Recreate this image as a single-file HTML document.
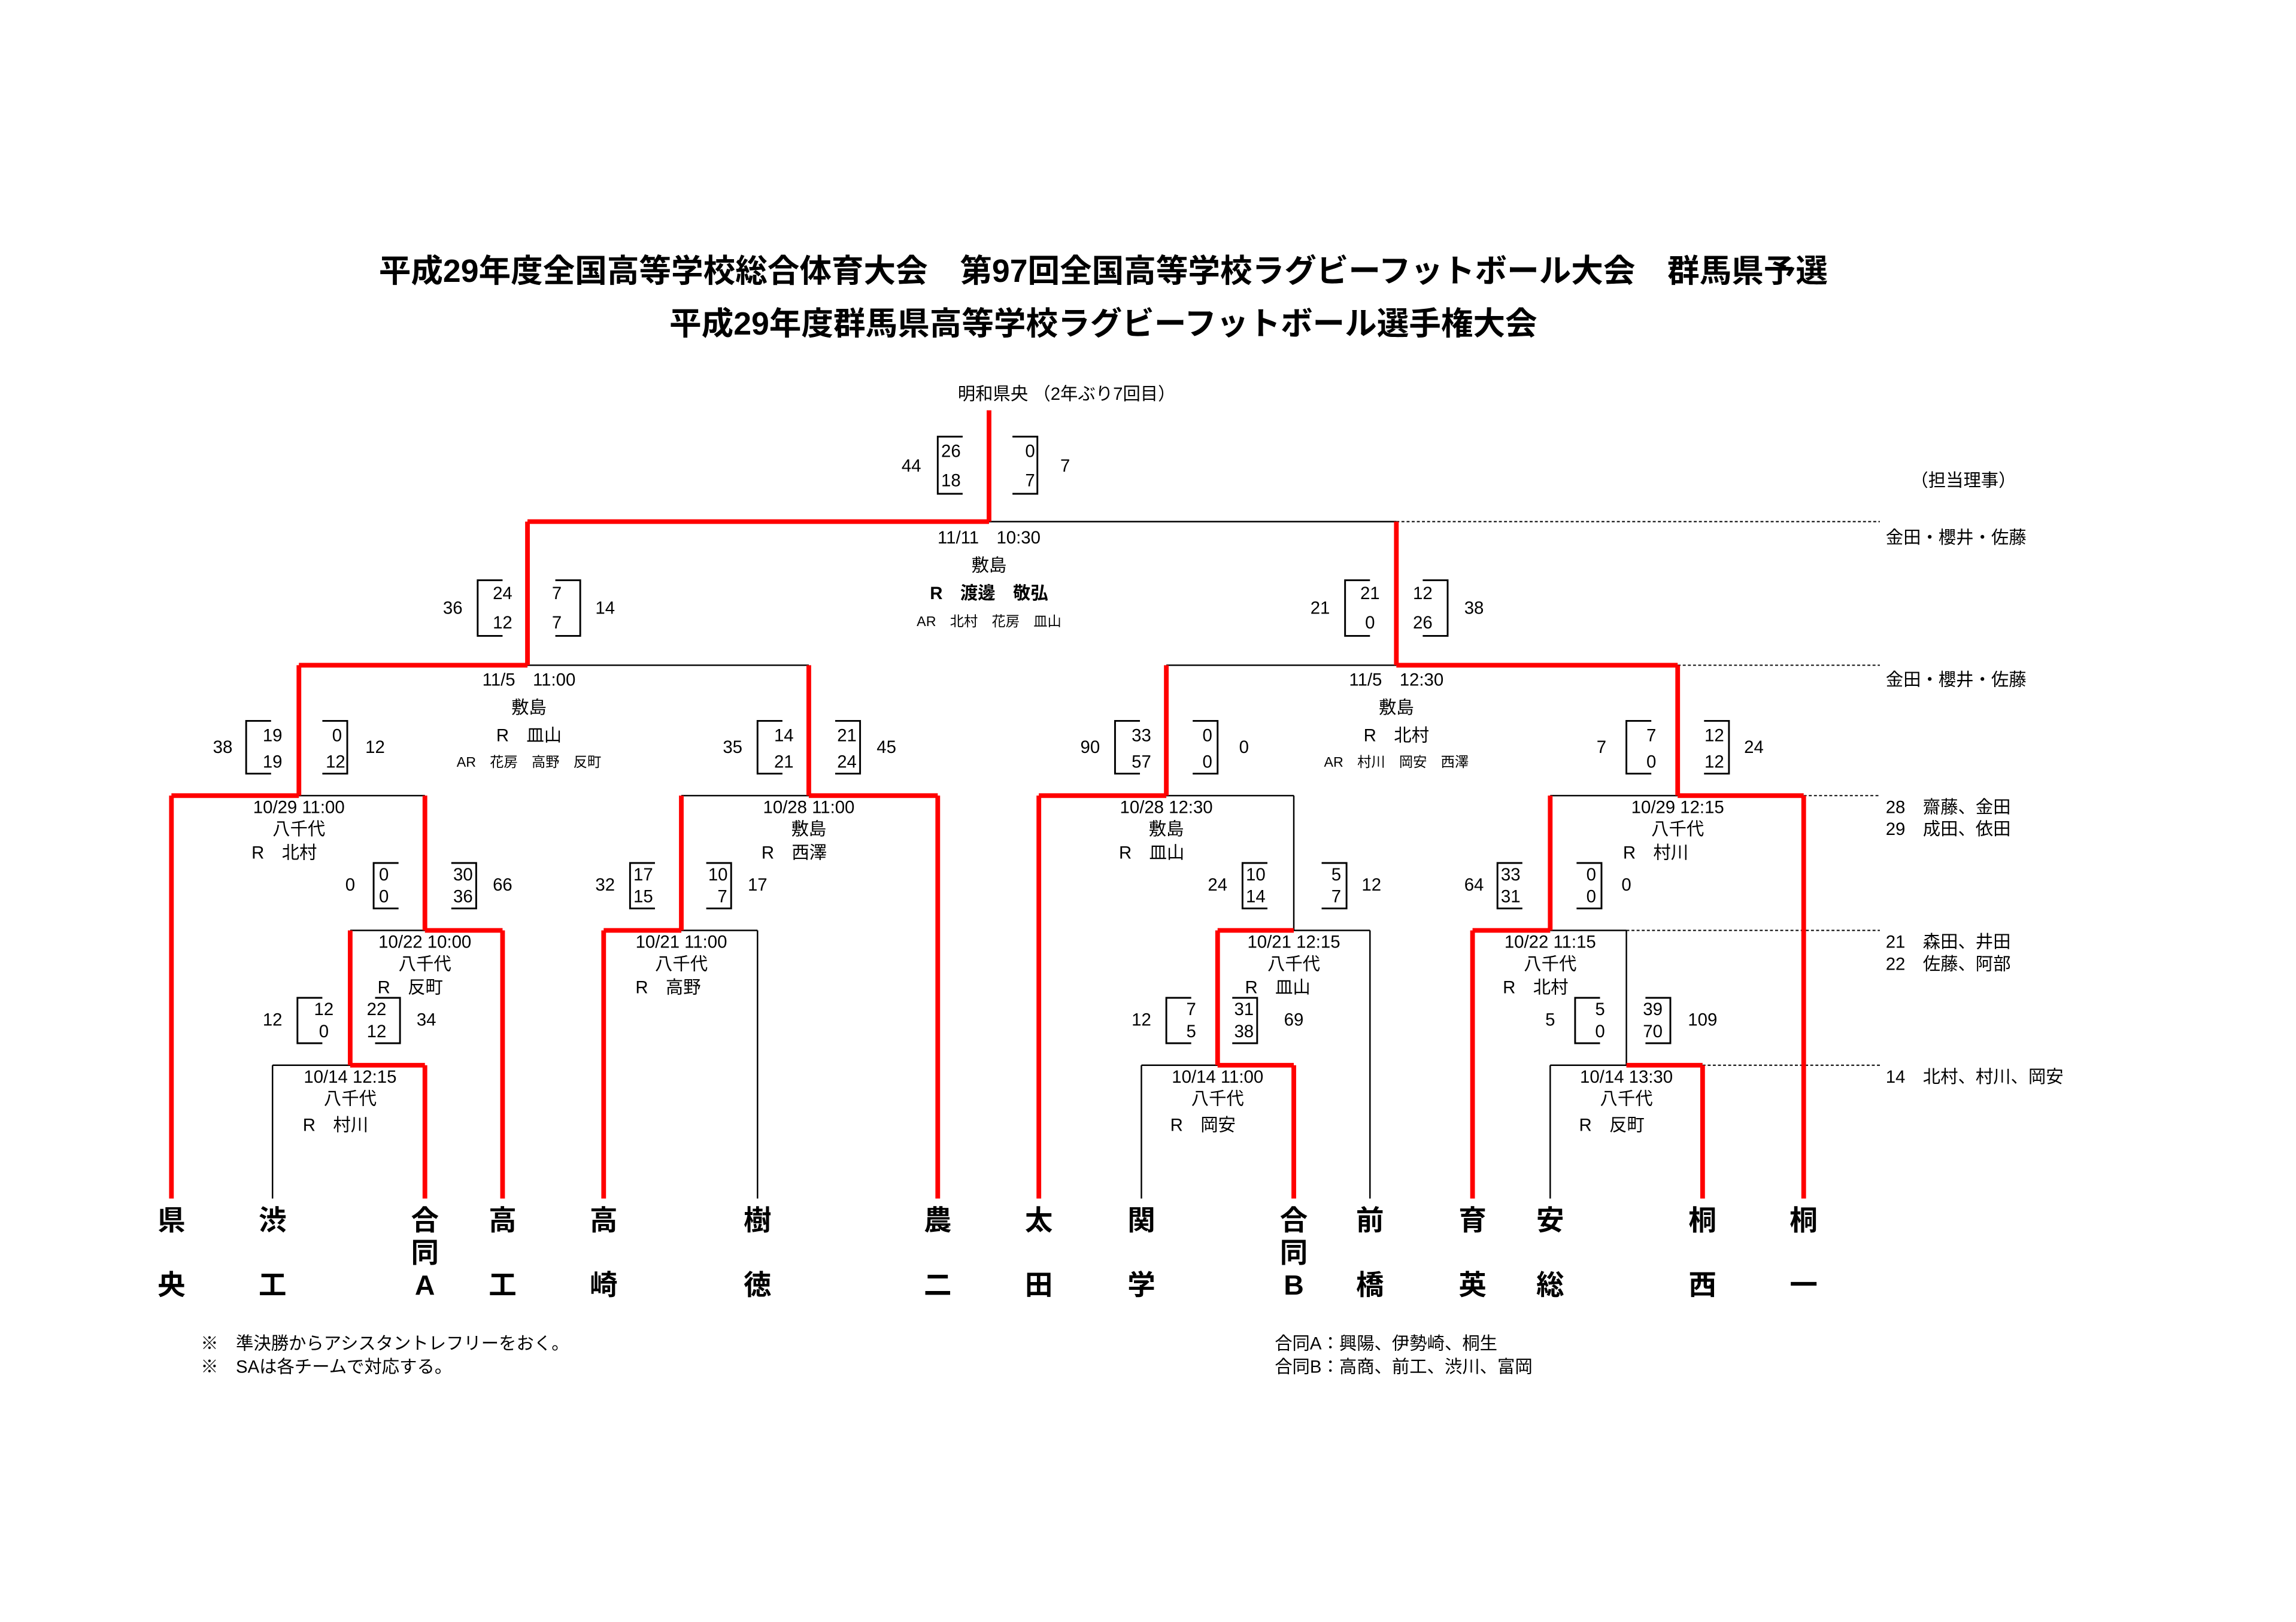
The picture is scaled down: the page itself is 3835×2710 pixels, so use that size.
<!DOCTYPE html>
<html><head><meta charset="utf-8"><style>
html,body{margin:0;padding:0;background:#fff}
svg{display:block}
text{font-family:"Liberation Sans","Noto Sans CJK JP",sans-serif;fill:#000;dominant-baseline:central}
.t{font-size:21.9px;font-weight:bold;text-anchor:middle}
.s{font-size:12px;text-anchor:middle}
.n{font-size:12px;text-anchor:middle}
.l{font-size:12px;text-anchor:start}
.x{font-size:9.5px;text-anchor:middle}
.nm{font-size:19px;font-weight:bold;text-anchor:middle}
.r{stroke:#f00;stroke-width:3.2;fill:none}
.b{stroke:#000;stroke-width:1;fill:none}
.d{stroke:#000;stroke-width:0.8;fill:none;stroke-dasharray:2,1.5}
.bx{stroke:#000;stroke-width:1.2;fill:none}
</style></head><body>
<svg width="3835" height="2710" viewBox="0 0 1567 1107" preserveAspectRatio="none" xmlns="http://www.w3.org/2000/svg">
<rect width="1567" height="1107" fill="#fff"/>
<text class="t" x="753" y="185">平成29年度全国高等学校総合体育大会　第97回全国高等学校ラグビーフットボール大会　群馬県予選</text>
<text class="t" x="753" y="221">平成29年度群馬県高等学校ラグビーフットボール選手権大会</text>
<text class="s" x="728" y="269">明和県央 （2年ぶり7回目）</text>
<text class="s" x="1340" y="328">（担当理事）</text>

<path class="b" d="M675 356H953 M360 454H552 M796 454H953 M204 543H290 M465 543H552 M796 543H883 M1058 543H1145
M239 635H290 M465 635H517 M883 635H935 M1058 635H1110
M186 727H239 M779 727H831 M1058 727H1110
M186 727V818 M517 635V818 M779 727V818 M935 635V818 M1058 727V818 M883 543V635 M1110 635V727"/>
<path class="d" d="M953 356H1283 M1145 454H1283 M1231 543H1283 M1110 635H1283 M1162 727H1283"/>
<path class="r" d="M675 280V356 M360 356H675 M360 356V454 M204 454H360 M204 454V543 M117 543H204 M117 543V818
M290 543V635 M290 635H343 M343 635V818 M239 635V727 M239 727H290 M290 727V818
M552 454V543 M552 543H640 M640 543V818 M465 543V635 M412 635H465 M412 635V818
M953 356V454 M953 454H1145 M1145 454V543 M1145 543H1231 M1231 543V818
M796 454V543 M709 543H796 M709 543V818 M831 635H883 M831 635V727 M831 727H883 M883 727V818
M1058 543V635 M1005 635H1058 M1005 635V818 M1110 727H1162 M1162 727V818"/>

<path class="bx" d="
M657 298H640V337H657 M691 298H708V337H691
M343 396H326V434H343 M379 396H396V434H379
M935 396H918V434H935 M971 396H988V434H971
M185 492H168V528H185 M220 492H237V528H220
M534 492H517V528H534 M570 492H587V528H570
M778 492H761V528H778 M814 492H831V528H814
M1127 492H1110V528H1127 M1163 492H1180V528H1163
M272 589H255V620H272 M308 589H325V620H308
M447 589H430V620H447 M482 589H499V620H482
M865 589H848V620H865 M902 589H919V620H902
M1039 589H1022V620H1039 M1076 589H1093V620H1076
M220 681H203V712H220 M256 681H273V712H256
M813 681H796V712H813 M841 681H858V712H841
M1092 681H1075V712H1092 M1123 681H1140V712H1123"/>

<text class="n" x="622" y="318">44</text><text class="n" x="649" y="308">26</text><text class="n" x="649" y="328">18</text>
<text class="n" x="703" y="308">0</text><text class="n" x="703" y="328">7</text><text class="n" x="727" y="318">7</text>
<text class="s" x="675" y="367">11/11　10:30</text>
<text class="s" x="675" y="386">敷島</text>
<text class="s" x="675" y="405" style="font-weight:bold">R　渡邊　敬弘</text>
<text class="x" x="675" y="424">AR　北村　花房　皿山</text>

<text class="n" x="309" y="415">36</text><text class="n" x="343" y="405">24</text><text class="n" x="343" y="425">12</text>
<text class="n" x="380" y="405">7</text><text class="n" x="380" y="425">7</text><text class="n" x="413" y="415">14</text>
<text class="n" x="901" y="415">21</text><text class="n" x="935" y="405">21</text><text class="n" x="935" y="425">0</text>
<text class="n" x="971" y="405">12</text><text class="n" x="971" y="425">26</text><text class="n" x="1006" y="415">38</text>

<text class="s" x="361" y="464">11/5　11:00</text><text class="s" x="361" y="483">敷島</text>
<text class="s" x="361" y="502">R　皿山</text><text class="x" x="361" y="520">AR　花房　高野　反町</text>
<text class="s" x="953" y="464">11/5　12:30</text><text class="s" x="953" y="483">敷島</text>
<text class="s" x="953" y="502">R　北村</text><text class="x" x="953" y="520">AR　村川　岡安　西澤</text>

<text class="n" x="152" y="510">38</text><text class="n" x="186" y="502">19</text><text class="n" x="186" y="520">19</text>
<text class="n" x="230" y="502">0</text><text class="n" x="229" y="520">12</text><text class="n" x="256" y="510">12</text>
<text class="n" x="500" y="510">35</text><text class="n" x="535" y="502">14</text><text class="n" x="535" y="520">21</text>
<text class="n" x="578" y="502">21</text><text class="n" x="578" y="520">24</text><text class="n" x="605" y="510">45</text>
<text class="n" x="744" y="510">90</text><text class="n" x="779" y="502">33</text><text class="n" x="779" y="520">57</text>
<text class="n" x="824" y="502">0</text><text class="n" x="824" y="520">0</text><text class="n" x="849" y="510">0</text>
<text class="n" x="1093" y="510">7</text><text class="n" x="1127" y="502">7</text><text class="n" x="1127" y="520">0</text>
<text class="n" x="1170" y="502">12</text><text class="n" x="1170" y="520">12</text><text class="n" x="1197" y="510">24</text>

<text class="s" x="204" y="551">10/29 11:00</text><text class="s" x="204" y="566">八千代</text><text class="s" x="194" y="582">R　北村</text>
<text class="s" x="552" y="551">10/28 11:00</text><text class="s" x="552" y="566">敷島</text><text class="s" x="542" y="582">R　西澤</text>
<text class="s" x="796" y="551">10/28 12:30</text><text class="s" x="796" y="566">敷島</text><text class="s" x="786" y="582">R　皿山</text>
<text class="s" x="1145" y="551">10/29 12:15</text><text class="s" x="1145" y="566">八千代</text><text class="s" x="1130" y="582">R　村川</text>

<text class="n" x="239" y="604">0</text><text class="n" x="262" y="597">0</text><text class="n" x="262" y="612">0</text>
<text class="n" x="316" y="597">30</text><text class="n" x="316" y="612">36</text><text class="n" x="343" y="604">66</text>
<text class="n" x="413" y="604">32</text><text class="n" x="439" y="597">17</text><text class="n" x="439" y="612">15</text>
<text class="n" x="490" y="597">10</text><text class="n" x="493" y="612">7</text><text class="n" x="517" y="604">17</text>
<text class="n" x="831" y="604">24</text><text class="n" x="857" y="597">10</text><text class="n" x="857" y="612">14</text>
<text class="n" x="912" y="597">5</text><text class="n" x="912" y="612">7</text><text class="n" x="936" y="604">12</text>
<text class="n" x="1006" y="604">64</text><text class="n" x="1031" y="597">33</text><text class="n" x="1031" y="612">31</text>
<text class="n" x="1086" y="597">0</text><text class="n" x="1086" y="612">0</text><text class="n" x="1110" y="604">0</text>

<text class="s" x="290" y="643">10/22 10:00</text><text class="s" x="290" y="658">八千代</text><text class="s" x="280" y="674">R　反町</text>
<text class="s" x="465" y="643">10/21 11:00</text><text class="s" x="465" y="658">八千代</text><text class="s" x="456" y="674">R　高野</text>
<text class="s" x="883" y="643">10/21 12:15</text><text class="s" x="883" y="658">八千代</text><text class="s" x="872" y="674">R　皿山</text>
<text class="s" x="1058" y="643">10/22 11:15</text><text class="s" x="1058" y="658">八千代</text><text class="s" x="1048" y="674">R　北村</text>

<text class="n" x="186" y="696">12</text><text class="n" x="221" y="689">12</text><text class="n" x="221" y="704">0</text>
<text class="n" x="257" y="689">22</text><text class="n" x="257" y="704">12</text><text class="n" x="291" y="696">34</text>
<text class="n" x="779" y="696">12</text><text class="n" x="813" y="689">7</text><text class="n" x="813" y="704">5</text>
<text class="n" x="849" y="689">31</text><text class="n" x="849" y="704">38</text><text class="n" x="883" y="696">69</text>
<text class="n" x="1058" y="696">5</text><text class="n" x="1092" y="689">5</text><text class="n" x="1092" y="704">0</text>
<text class="n" x="1128" y="689">39</text><text class="n" x="1128" y="704">70</text><text class="n" x="1162" y="696">109</text>

<text class="s" x="239" y="735">10/14 12:15</text><text class="s" x="239" y="750">八千代</text><text class="s" x="229" y="768">R　村川</text>
<text class="s" x="831" y="735">10/14 11:00</text><text class="s" x="831" y="750">八千代</text><text class="s" x="821" y="768">R　岡安</text>
<text class="s" x="1110" y="735">10/14 13:30</text><text class="s" x="1110" y="750">八千代</text><text class="s" x="1100" y="768">R　反町</text>

<text class="l" x="1287" y="367">金田・櫻井・佐藤</text>
<text class="l" x="1287" y="464">金田・櫻井・佐藤</text>
<text class="l" x="1287" y="551">28　齋藤、金田</text>
<text class="l" x="1287" y="566">29　成田、依田</text>
<text class="l" x="1287" y="643">21　森田、井田</text>
<text class="l" x="1287" y="658">22　佐藤、阿部</text>
<text class="l" x="1287" y="735">14　北村、村川、岡安</text>

<text class="nm" x="117" y="833">県</text><text class="nm" x="117" y="877">央</text>
<text class="nm" x="186" y="833">渋</text><text class="nm" x="186" y="877">工</text>
<text class="nm" x="290" y="833">合</text><text class="nm" x="290" y="855">同</text><text class="nm" x="290" y="877">A</text>
<text class="nm" x="343" y="833">高</text><text class="nm" x="343" y="877">工</text>
<text class="nm" x="412" y="833">高</text><text class="nm" x="412" y="877">崎</text>
<text class="nm" x="517" y="833">樹</text><text class="nm" x="517" y="877">徳</text>
<text class="nm" x="640" y="833">農</text><text class="nm" x="640" y="877">二</text>
<text class="nm" x="709" y="833">太</text><text class="nm" x="709" y="877">田</text>
<text class="nm" x="779" y="833">関</text><text class="nm" x="779" y="877">学</text>
<text class="nm" x="883" y="833">合</text><text class="nm" x="883" y="855">同</text><text class="nm" x="883" y="877">B</text>
<text class="nm" x="935" y="833">前</text><text class="nm" x="935" y="877">橋</text>
<text class="nm" x="1005" y="833">育</text><text class="nm" x="1005" y="877">英</text>
<text class="nm" x="1058" y="833">安</text><text class="nm" x="1058" y="877">総</text>
<text class="nm" x="1162" y="833">桐</text><text class="nm" x="1162" y="877">西</text>
<text class="nm" x="1231" y="833">桐</text><text class="nm" x="1231" y="877">一</text>

<text class="l" x="137" y="917">※　準決勝からアシスタントレフリーをおく。</text>
<text class="l" x="137" y="933">※　SAは各チームで対応する。</text>
<text class="l" x="870" y="917">合同A：興陽、伊勢崎、桐生</text>
<text class="l" x="870" y="933">合同B：高商、前工、渋川、富岡</text>
</svg>
</body></html>
